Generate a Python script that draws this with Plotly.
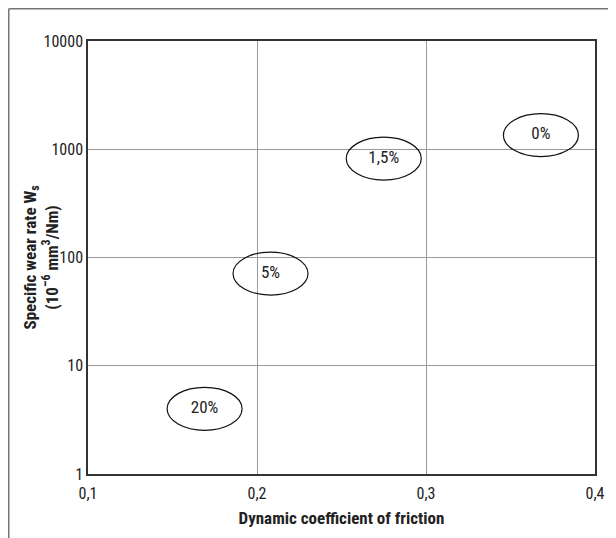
import math
import plotly.graph_objects as go

# Data
labels = ["0%", "1,5%", "5%", "20%"]
friction = [0.368, 0.275, 0.208, 0.169]
wear_rate = [1350, 820, 71, 4.0]

x_ticks = [0.1, 0.2, 0.3, 0.4]
x_ticktext = ["0,1", "0,2", "0,3", "0,4"]
y_ticks = [1, 10, 100, 1000, 10000]
y_ticktext = ["1", "10", "100", "1000", "10000"]

FONT = "Liberation Sans Narrow, Roboto Condensed, Arial Narrow, Liberation Sans, sans-serif"
TXT = "#222222"

fig = go.Figure()
fig.add_trace(go.Scatter(
    x=friction, y=wear_rate, mode="text", text=labels,
    textposition="middle center",
    textfont=dict(family=FONT, size=17, color=TXT),
    hoverinfo="skip", showlegend=False,
))

# Ellipses are anchored on a hidden linear overlay axis that spans the same
# decades as the log axis (pixel-sized shapes misbehave on log axes).
shapes = []
for xv, yv in zip(friction, wear_rate):
    shapes.append(dict(
        type="circle", xref="x", yref="y2",
        xsizemode="pixel", ysizemode="pixel",
        xanchor=xv, yanchor=math.log10(yv),
        x0=-37.5, x1=37.5, y0=-21.5, y1=21.5,
        line=dict(color="#111111", width=1.2),
        fillcolor="rgba(0,0,0,0)", layer="above",
    ))

# page body has an 8px margin, so the figure is sized to the remaining area
W, H = 608, 530
ml, mr, mt, mb = 80, 21, 33, 64
pw, ph = W - ml - mr, H - mt - mb
fx = (0.75 - ml) / pw
fy = 1 + (mt - 0.75) / ph
shapes.append(dict(type="line", xref="paper", yref="paper",
                   x0=fx, x1=1 + (mr + 5) / pw, y0=fy, y1=fy,
                   line=dict(color="#777777", width=1.5)))
shapes.append(dict(type="line", xref="paper", yref="paper",
                   x0=fx, x1=fx, y0=fy, y1=-(mb + 5) / ph,
                   line=dict(color="#777777", width=1.5)))

fig.update_layout(
    width=W, height=H,
    margin=dict(l=ml, r=mr, t=mt, b=mb, pad=0),
    paper_bgcolor="white", plot_bgcolor="white",
    separators=", ",
    font=dict(family=FONT, size=16, color=TXT),
    shapes=shapes,
    xaxis=dict(
        range=[0.1, 0.4], tickvals=x_ticks, ticktext=x_ticktext,
        showgrid=True, gridcolor="#9a9a9a", gridwidth=1,
        showline=True, linecolor="#333333", linewidth=1.5, mirror=True,
        ticks="outside", ticklen=4, tickcolor="rgba(0,0,0,0)", zeroline=False,
        tickfont=dict(family=FONT, size=16, color=TXT),
        title=dict(text="<b>Dynamic coefficient of friction</b>", standoff=10,
                   font=dict(family=FONT, size=17, color=TXT)),
        fixedrange=True,
    ),
    yaxis=dict(
        type="log", range=[0, 4], tickvals=y_ticks, ticktext=y_ticktext,
        showgrid=True, gridcolor="#9a9a9a", gridwidth=1,
        showline=True, linecolor="#333333", linewidth=1.5, mirror=True,
        ticks="", zeroline=False,
        tickfont=dict(family=FONT, size=16, color=TXT),
        fixedrange=True,
    ),
    yaxis2=dict(
        type="linear", range=[math.log10(y_ticks[0]), math.log10(y_ticks[-1])],
        overlaying="y", visible=False, showgrid=False, zeroline=False,
        fixedrange=True,
    ),
    annotations=[dict(
        xref="paper", yref="paper", x=(32 - ml) / pw, y=0.5,
        xanchor="center", yanchor="middle", textangle=-90, showarrow=False,
        text="<b>Specific wear rate W<sub>s</sub></b><br><b>(10<sup>–6</sup> mm<sup>3</sup>/Nm)</b>",
        font=dict(family=FONT, size=17, color=TXT),
    )],
)

fig.write_html("out.html")
